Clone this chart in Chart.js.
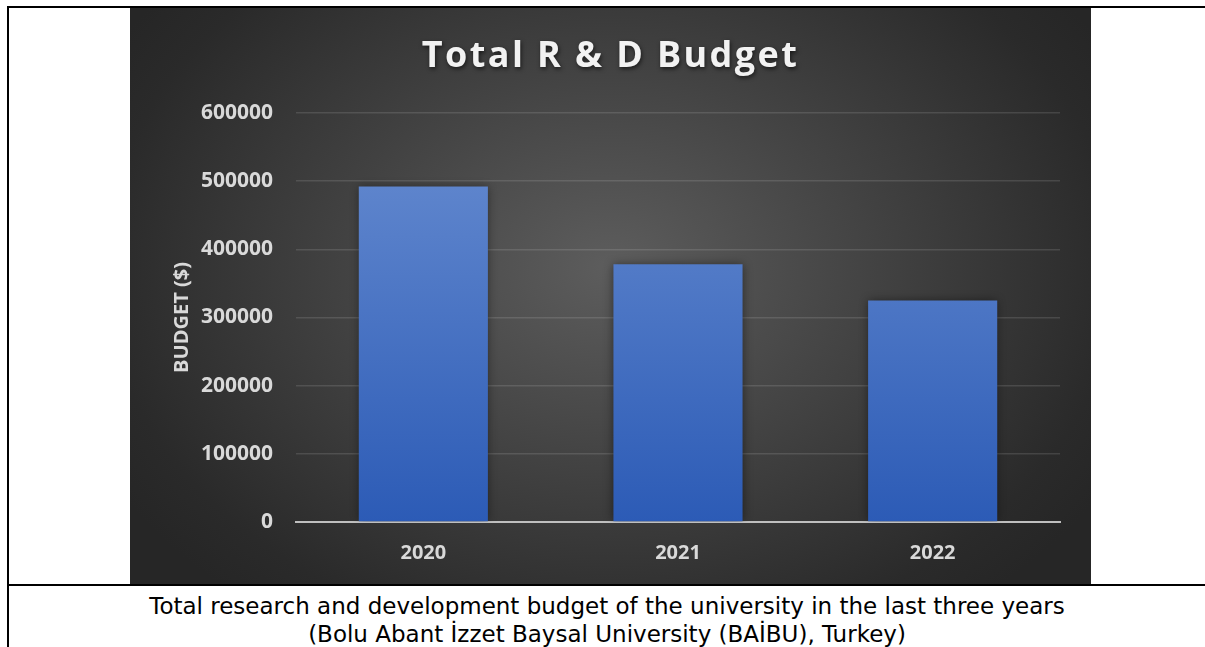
<!DOCTYPE html>
<html>
<head>
<meta charset="utf-8">
<script src="https://cdn.jsdelivr.net/npm/chart.js@4.4.1/dist/chart.umd.min.js"></script>
<style>
	body { margin: 0; background: #fff; width: 1205px; height: 647px; position: relative; overflow: hidden; }
	.rule-top { position: absolute; left: 7px; top: 6px; width: 1198px; height: 2px; background: #000; }
	.rule-left { position: absolute; left: 7px; top: 6px; width: 2px; height: 641px; background: #000; }
	.rule-mid { position: absolute; left: 7px; top: 584px; width: 1198px; height: 2px; background: #000; }
	#box {
		position: absolute; left: 130px; top: 8px; width: 961px; height: 576px;
		background: radial-gradient(ellipse 60% 75% at 50% 45%, #5d5d5d 0%, #2a2a2a 88%, #262626 100%);
	}
	#caption {
		position: absolute; left: 9px; top: 592px; width: 1196px;
		text-align: center; font-family: "DejaVu Sans", sans-serif; font-size: 23px; line-height: 28px; color: #000;
	}
</style>
</head>
<body>
<div class="rule-top"></div>
<div class="rule-left"></div>
<div class="rule-mid"></div>
<div id="box"><canvas id="chart" width="961" height="576"></canvas></div>
<div id="caption">Total research and development budget of the university in the last three years<br>(Bolu Abant İzzet Baysal University (BAİBU), Turkey)</div>

<script>
var years = ["2020", "2021", "2022"];
var budget = [492000, 378000, 325000];
var yMin = 0;
var yMax = 600000;
var yStep = 100000;
var chartTitle = "Total R & D Budget";
var yTitle = "BUDGET ($)";

// title with letter spacing and a soft drop shadow
var spacedTitle = {
	id: "spacedTitle",
	afterDraw: function (chart) {
		var ctx = chart.ctx;
		ctx.save();
		ctx.font = "bold 36px 'Open Sans'";
		ctx.letterSpacing = "2.4px";
		ctx.textAlign = "center";
		ctx.textBaseline = "alphabetic";
		ctx.shadowColor = "rgba(0,0,0,0.6)";
		ctx.shadowBlur = 4;
		ctx.shadowOffsetX = 1;
		ctx.shadowOffsetY = 2;
		ctx.fillStyle = "#f2f2f2";
		ctx.fillText(chartTitle, chart.width / 2, 59);
		ctx.restore();
	},
};

// dark halo round the bars
var barShadow = {
	id: "barShadow",
	beforeDatasetsDraw: function (chart) {
		var ctx = chart.ctx;
		ctx.save();
		ctx.shadowColor = "rgba(0,0,0,0.45)";
		ctx.shadowBlur = 9;
	},
	afterDatasetsDraw: function (chart) {
		chart.ctx.restore();
	},
};

function barFill(context) {
	var area = context.chart.chartArea;
	if (!area) return "#4a74c4";
	var g = context.chart.ctx.createLinearGradient(0, area.top, 0, area.bottom);
	g.addColorStop(0, "#688dd1");
	g.addColorStop(1, "#2c5bb6");
	return g;
}

var grafico = new Chart(document.getElementById("chart"), {
	type: "bar",
	data: {
		labels: years,
		datasets: [
			{
				data: budget,
				backgroundColor: barFill,
				borderWidth: 0,
				barPercentage: 0.507,
				categoryPercentage: 1,
			},
		],
	},
	options: {
		responsive: false,
		animation: false,
		layout: { padding: { top: 105, right: 31, left: 0, bottom: 0 } },
		plugins: {
			legend: { display: false },
			title: { display: false },
			tooltip: { enabled: false },
		},
		scales: {
			x: {
				grid: { display: false },
				border: { display: true, color: "#bfbfbf", width: 2 },
				ticks: { color: "#d9d9d9", padding: 11, font: { family: "Open Sans", size: 20, weight: "bold" } },
				afterFit: function (axis) {
					axis.height = 62;
				},
			},
			y: {
				min: yMin,
				max: yMax,
				ticks: {
					stepSize: yStep,
					color: "#d9d9d9",
					padding: 23,
					font: { family: "Open Sans", size: 21, weight: "bold" },
					callback: function (value) {
						return String(value);
					},
				},
				grid: { color: "rgba(255,255,255,0.12)", lineWidth: 1.5, drawTicks: false },
				border: { display: false },
				title: {
					display: true,
					text: yTitle,
					color: "#d9d9d9",
					padding: { top: 40, bottom: 0 },
					font: { family: "Open Sans", size: 20, weight: "bold" },
				},
				afterFit: function (axis) {
					axis.width = 166;
				},
			},
		},
	},
	plugins: [barShadow, spacedTitle],
});
</script>
</body>
</html>
